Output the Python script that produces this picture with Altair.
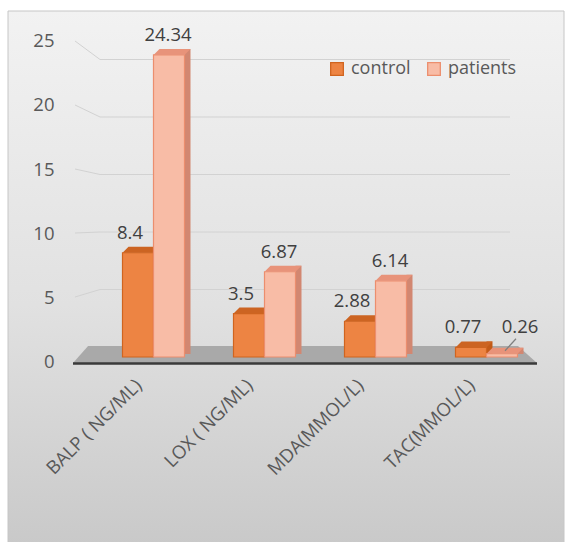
import altair as alt
import pandas as pd

# ---- data ----
categories = ["BALP ( NG/ML)", "LOX ( NG/ML)", "MDA(MMOL/L)", "TAC(MMOL/L)"]
control = [8.4, 3.5, 2.88, 0.77]
patients = [24.34, 6.87, 6.14, 0.26]
series_names = ["control", "patients"]
y_ticks = [0, 5, 10, 15, 20, 25]

rows = []
for c, a, b in zip(categories, control, patients):
    rows.append({"category": c, "series": "control", "value": a, "label": f"{a:g}"})
    rows.append({"category": c, "series": "patients", "value": b, "label": f"{b:g}"})
df = pd.DataFrame(rows)
grid_df = pd.DataFrame({"v": y_ticks[1:]})
one = pd.DataFrame({"k": [0]})

# ---- layout ----
L, T, W, H = 98, 40, 444, 324
FONT = "Open Sans"
TXT = "#595959"

x_enc = alt.X(
    "category:N", sort=categories,
    scale=alt.Scale(paddingInner=0.44, paddingOuter=0.22),
    axis=alt.Axis(title=None, labelAngle=-45, labelAlign="right", labelBaseline="middle",
                  labelFontSize=18.5, labelColor=TXT, labelFont=FONT, domain=False,
                  ticks=False, tickSize=0, labelPadding=18, labelOffset=-15, grid=False,
                  zindex=1, labelLimit=300),
)
bar_scale = alt.Scale(domain=[-0.564, 25.544], nice=False, zero=False)
front_scale = alt.Scale(domain=[-0.234, 25.078], nice=False, zero=False)

legend = alt.Legend(title=None, orient="none", legendX=230, legendY=20, direction="horizontal",
                    symbolType="square", symbolSize=160, symbolStrokeWidth=1.3,
                    labelFontSize=18, labelFont=FONT, labelColor=TXT, columnPadding=14,
                    padding=0, labelOffset=5, zindex=1)
fill_scale = alt.Scale(domain=series_names, range=["#ED8443", "#F8BCA6"])
stroke_scale = alt.Scale(domain=series_names, range=["#D0641F", "#EC8E6E"])

# ---- background panel ----
bg = alt.Chart(one).mark_rect(
    fill=alt.Gradient(gradient="linear",
                      stops=[alt.GradientStop(color="#f2f2f2", offset=0),
                             alt.GradientStop(color="#e1e1e1", offset=0.55),
                             alt.GradientStop(color="#c9c9c9", offset=1)],
                      x1=0, x2=0, y1=0, y2=1),
    stroke="#c6c6c6", strokeWidth=1,
).encode(x=alt.value(8 - L), x2=alt.value(564 - L), y=alt.value(11 - T), y2=alt.value(545 - T))

# ---- back-wall gridlines (pseudo 3D) ----
grid_base = alt.Chart(grid_df).transform_calculate(vb="(14 + 11.5 * datum.v) / 12.8")
grid_h = grid_base.mark_rule(color="#d2d2d2", strokeWidth=1).encode(
    y=alt.Y("vb:Q", scale=front_scale, axis=None),
    x=alt.value(100 - L), x2=alt.value(510 - L),
)
grid_s = grid_base.mark_rule(color="#d2d2d2", strokeWidth=1).encode(
    y=alt.Y("v:Q", scale=front_scale,
            axis=alt.Axis(title=None, values=y_ticks, domain=False, ticks=False, grid=False,
                          labelFontSize=18.5, labelFont=FONT, labelColor=TXT, labelPadding=44,
                          zindex=1)),
    y2="vb:Q",
    x=alt.value(75 - L), x2=alt.value(100 - L),
)

# ---- floor ----
floor = alt.Chart(one).mark_point(
    shape="M -1 0.0366 L -0.935 -0.0366 L 0.918 -0.0366 L 1 0.0366 Z",
    size=215296, filled=True, fill="#a9a9a9", opacity=1, strokeWidth=0,
).encode(x=alt.value(305 - L), y=alt.value(354.5 - T))
edge = alt.Chart(one).mark_rule(color="#3a3a3a", strokeWidth=2.5).encode(
    x=alt.value(73 - L), x2=alt.value(537 - L), y=alt.value(363.5 - T))

# ---- bars (front / side / top faces) ----
top_path = "M -0.816 0 L 0.816 0 L 1.132 -0.316 L -0.5 -0.316 Z"
specs = [
    ("control", -15.5, "#C25A18", "#CC6422", -8),
    ("patients", 15.5, "#D28771", "#E8937A", -1),
]
yq = alt.Y("value:Q", scale=bar_scale, axis=None)
layers = [bg, grid_h, grid_s, floor, edge]
texts = []
for s, o, side_c, top_c, dx in specs:
    b = alt.Chart(df).transform_filter(alt.datum.series == s)
    side = b.mark_bar(width=6, xOffset=o + 18.5, yOffset=-6, y2Offset=-3, color=side_c).encode(
        x=x_enc, y=yq, y2=alt.datum(0))
    front = b.mark_bar(width=31, xOffset=o, strokeWidth=1.2, opacity=1).encode(
        x=x_enc, y=yq, y2=alt.datum(0),
        fill=alt.Fill("series:N", scale=fill_scale, legend=legend),
        stroke=alt.Stroke("series:N", scale=stroke_scale, legend=legend),
    )
    top = b.mark_point(shape=top_path, size=1444, filled=True, color=top_c, opacity=1,
                       strokeWidth=0, xOffset=o).encode(x=x_enc, y=yq)
    layers += [side, front, top]
    if s == "control":
        texts.append(b.mark_text(font=FONT, fontSize=18.5, color="#404040", dy=-20,
                                 xOffset=o + dx).encode(x=x_enc, y=yq, text="label:N"))
    else:
        big = b.transform_filter(alt.datum.value >= 1)
        small = b.transform_filter(alt.datum.value < 1)
        texts.append(big.mark_text(font=FONT, fontSize=18.5, color="#404040", dy=-20,
                                   xOffset=o + dx).encode(x=x_enc, y=yq, text="label:N"))
        texts.append(small.mark_text(font=FONT, fontSize=18.5, color="#404040", dy=-27,
                                     xOffset=o + 18).encode(x=x_enc, y=yq, text="label:N"))
        texts.append(small.mark_rule(color="#7f7f7f", strokeWidth=1.2, xOffset=o + 3,
                                     x2Offset=o + 14, yOffset=-3, y2Offset=-15).encode(
            x=x_enc, x2=alt.X2("category:N"), y=yq, y2=alt.Y2("value:Q")))

chart = alt.layer(*layers, *texts).resolve_scale(y="independent").properties(
    width=W, height=H, autosize="none",
    padding={"left": L, "top": T, "right": 568 - L - W, "bottom": 542 - T - H},
    background="white",
).configure_view(strokeWidth=0)

chart.save("out.html", embed_options={"renderer": "svg", "actions": False})
